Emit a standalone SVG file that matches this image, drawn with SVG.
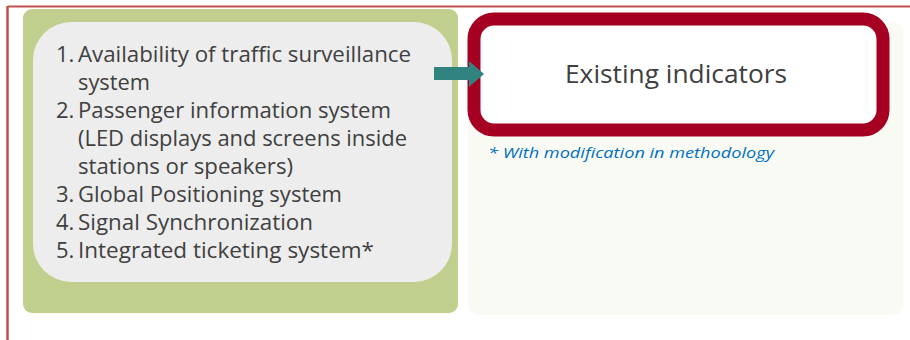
<svg xmlns="http://www.w3.org/2000/svg" width="910" height="340" viewBox="0 0 910 340">
  <defs>
    <style>
      .list { font-family: "Open Sans", "Noto Sans", sans-serif; font-size: 22px; fill: #404040; }
      .title { font-family: "Open Sans", "Noto Sans", sans-serif; font-size: 25px; fill: #404040; }
      .note { font-family: "Open Sans", "Noto Sans", sans-serif; font-size: 15px; font-style: italic; fill: #0070c0; }
    </style>
  </defs>
  <rect x="0" y="0" width="910" height="340" fill="#ffffff"/>
  <!-- frame lines -->
  <line x1="7.5" y1="6.5" x2="910" y2="6.5" stroke="#c0504d" stroke-width="2"/>
  <line x1="7.5" y1="6" x2="7.5" y2="340" stroke="#c0504d" stroke-width="2.5"/>

  <!-- right backdrop panel -->
  <g id="backdrop">
    <rect x="468" y="22" width="435" height="293" rx="10" fill="#fafaf5"/>
  </g>

  <!-- left list node -->
  <g id="list-node">
    <rect x="23" y="9" width="435" height="304" rx="9" fill="#c0cf8d"/>
    <rect x="33" y="22" width="419" height="260" rx="38" fill="#ededed"/>
    <text class="list" x="56" y="62">1.</text>
    <text class="list" x="78" y="62" textLength="333" lengthAdjust="spacingAndGlyphs">Availability of traffic surveillance</text>
    <text class="list" x="78" y="90" textLength="72" lengthAdjust="spacingAndGlyphs">system</text>
    <text class="list" x="56" y="118">2.</text>
    <text class="list" x="78" y="118" textLength="313" lengthAdjust="spacingAndGlyphs">Passenger information system</text>
    <text class="list" x="78" y="146" textLength="329" lengthAdjust="spacingAndGlyphs">(LED displays and screens inside</text>
    <text class="list" x="78" y="174" textLength="215" lengthAdjust="spacingAndGlyphs">stations or speakers)</text>
    <text class="list" x="56" y="202">3.</text>
    <text class="list" x="78" y="202" textLength="264" lengthAdjust="spacingAndGlyphs">Global Positioning system</text>
    <text class="list" x="56" y="230">4.</text>
    <text class="list" x="78" y="230" textLength="235" lengthAdjust="spacingAndGlyphs">Signal Synchronization</text>
    <text class="list" x="56" y="258">5.</text>
    <text class="list" x="78" y="258" textLength="296" lengthAdjust="spacingAndGlyphs">Integrated ticketing system*</text>
  </g>

  <!-- result node -->
  <g id="existing-indicators">
    <rect x="474" y="19" width="409" height="111" rx="20" fill="#ffffff" stroke="#a50021" stroke-width="13"/>
    <text class="title" x="676" y="83" text-anchor="middle" textLength="222" lengthAdjust="spacingAndGlyphs">Existing indicators</text>
  </g>

  <g id="footnote">
    <text class="note" x="488" y="158" textLength="286" lengthAdjust="spacingAndGlyphs">* With modification in methodology</text>
  </g>

  <!-- connector -->
  <g id="connectors">
    <polygon points="434,67 469,67 469,61 484,74 469,87 469,80 434,80" fill="#31837f"/>
  </g>
</svg>
